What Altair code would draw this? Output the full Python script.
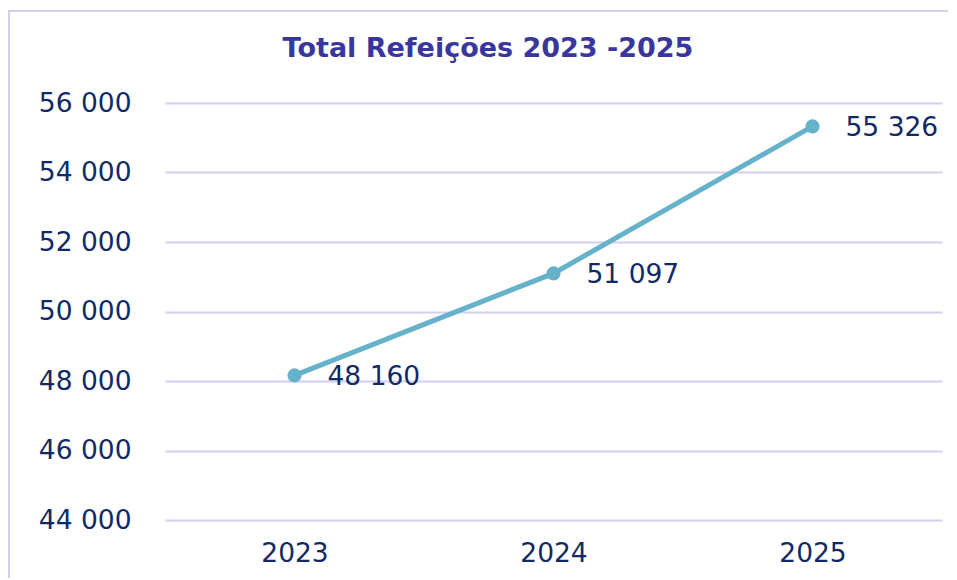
import altair as alt
import pandas as pd

years = ["2023", "2024", "2025"]
meals = [48160, 51097, 55326]
y_ticks = [44000, 46000, 48000, 50000, 52000, 54000, 56000]
title_text = ["Total Refeições 2023 -2025"]

df = pd.DataFrame({"year": years, "meals": meals})
df["label"] = [f"{v:,}".replace(",", " ") for v in meals]
tdf = pd.DataFrame({"t": title_text})

TEXT = "#112a66"
LINE = "#65b2ca"
GRID = "#d3d0ef"
FONT = "DejaVu Sans"
FS = 26.5

x = alt.X("year:N", sort=years, title=None,
          axis=alt.Axis(labelAngle=0, labelFontSize=FS, labelColor=TEXT, labelFont=FONT,
                        labelPadding=20, ticks=False, domain=False, grid=False))
y = alt.Y("meals:Q", title=None,
          scale=alt.Scale(domain=[44000, 56000], nice=False, zero=False),
          axis=alt.Axis(values=y_ticks, labelFontSize=FS, labelColor=TEXT, labelFont=FONT,
                        labelPadding=34, ticks=False, domain=False, grid=True,
                        gridColor=GRID, gridWidth=2,
                        labelExpr="replace(format(datum.value, ','), ',', ' ')"))

base = alt.Chart(df)
line = base.mark_line(color=LINE, strokeWidth=5).encode(x=x, y=y)
pts = base.mark_point(color=LINE, filled=True, opacity=1, size=200).encode(x=x, y=y)
labels = base.mark_text(align="left", baseline="middle", dx=33, dy=2, fontSize=FS,
                        font=FONT, color=TEXT).encode(x=x, y=y, text="label:N")
frame = alt.Chart(tdf).mark_rect(fill=None, stroke=GRID, strokeWidth=2).encode(
    x=alt.value(-156), x2=alt.value(835), y=alt.value(-92), y2=alt.value(500))
title = alt.Chart(tdf).mark_text(align="center", baseline="alphabetic", fontSize=27,
                                 font=FONT, fontWeight="bold", color="#3a36a0").encode(
    x=alt.value(323), y=alt.value(-46), text="t:N")

chart = alt.layer(frame, line, pts, labels, title).properties(
    width=777, height=417,
    autosize=alt.AutoSizeParams(type="none"),
    padding={"left": 157, "top": 95, "right": 6, "bottom": 58},
).configure_view(stroke=None)

chart.save("out.html", embed_options={"renderer": "svg", "actions": False})
